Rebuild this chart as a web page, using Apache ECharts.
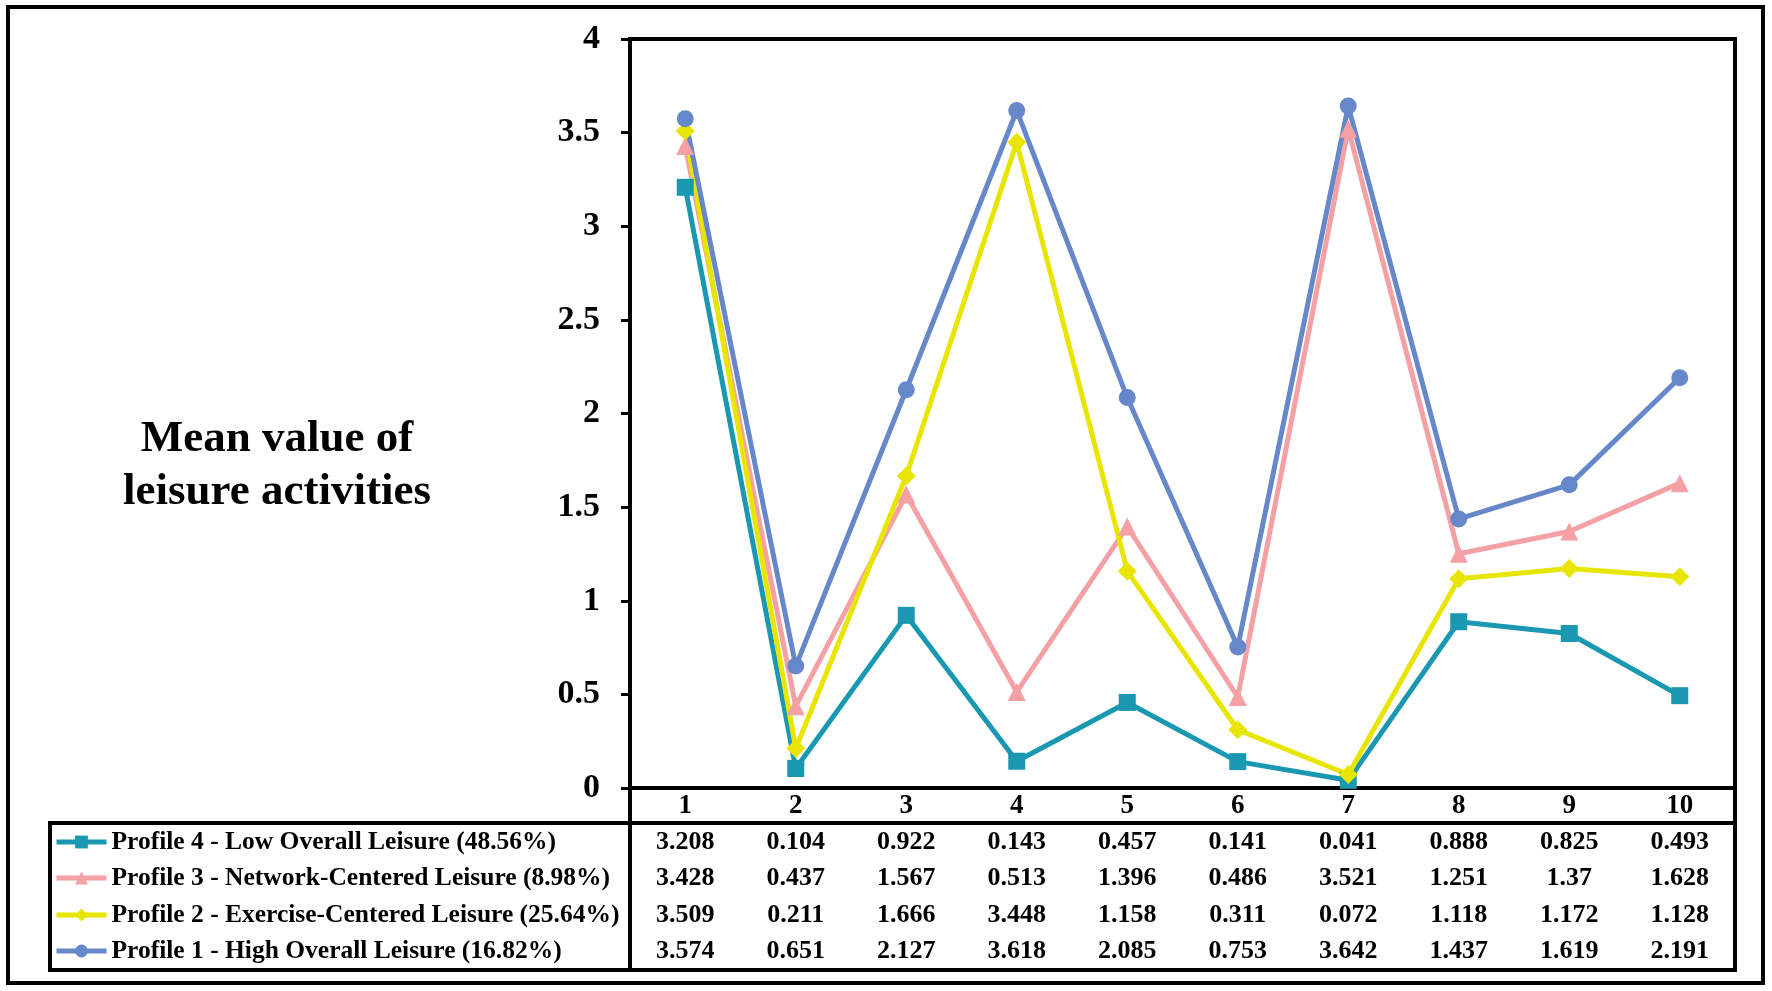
<!DOCTYPE html>
<html>
<head>
<meta charset="utf-8">
<title>Mean value of leisure activities</title>
<script src="https://cdn.jsdelivr.net/npm/echarts@6/dist/echarts.min.js"></script>
<style>
    html, body { margin: 0; padding: 0; background: #fff; }
    #main { width: 1772px; height: 991px; }
</style>
</head>
<body>
<div id="main"></div>
<script>
var categories = ['1', '2', '3', '4', '5', '6', '7', '8', '9', '10'];
var yTicks = [0, 0.5, 1, 1.5, 2, 2.5, 3, 3.5, 4];

var profileNames = [
    'Profile 4 - Low Overall Leisure (48.56%)',
    'Profile 3 - Network-Centered Leisure (8.98%)',
    'Profile 2 - Exercise-Centered Leisure (25.64%)',
    'Profile 1 - High Overall Leisure (16.82%)'
];
var profile4 = [3.208, 0.104, 0.922, 0.143, 0.457, 0.141, 0.041, 0.888, 0.825, 0.493];
var profile3 = [3.428, 0.437, 1.567, 0.513, 1.396, 0.486, 3.521, 1.251, 1.37, 1.628];
var profile2 = [3.509, 0.211, 1.666, 3.448, 1.158, 0.311, 0.072, 1.118, 1.172, 1.128];
var profile1 = [3.574, 0.651, 2.127, 3.618, 2.085, 0.753, 3.642, 1.437, 1.619, 2.191];

var profileData = [profile4, profile3, profile2, profile1];
var profileColors = ['#1a98b2', '#f4a0a4', '#e8e600', '#6687c9'];
var profileSymbols = ['rect', 'triangle', 'diamond', 'circle'];
var symbolSizes = [17, 18, 19, 17];

var font = '"Liberation Serif", "Times New Roman", serif';

var chart = echarts.init(document.getElementById('main'));

// plot box and table rows (pixels)
var plotLeft = 630, plotRight = 1735, plotTop = 39, plotBottom = 788;
var catBottom = 823, tableLeft = 50, tableBottom = 970;
var rowCenters = [842, 878, 915, 951];

var xAxes = [{
    type: 'category',
    data: categories,
    position: 'bottom',
    axisLine: { show: true, lineStyle: { color: '#000', width: 4 } },
    axisTick: { show: false },
    axisLabel: {
        margin: 18,
        verticalAlign: 'middle',
        color: '#000',
        fontFamily: font,
        fontWeight: 'bold',
        fontSize: 27
    }
}];

// the data table under the plot: one label-only axis per profile
for (var k = 0; k < profileData.length; k++) {
    (function (row) {
        xAxes.push({
            type: 'category',
            data: categories,
            position: 'bottom',
            offset: rowCenters[row] - plotBottom,
            axisLine: { show: false },
            axisTick: { show: false },
            axisLabel: {
                margin: 0,
                verticalAlign: 'middle',
                color: '#000',
                fontFamily: font,
                fontWeight: 'bold',
                fontSize: 26,
                formatter: function (v, i) {
                    return String(profileData[row][i]);
                }
            }
        });
    })(k);
}

var series = [];
var legends = [];
for (var s = 0; s < profileData.length; s++) {
    series.push({
        name: profileNames[s],
        type: 'line',
        xAxisIndex: 0,
        data: profileData[s],
        symbol: profileSymbols[s],
        symbolSize: symbolSizes[s],
        showAllSymbol: true,
        lineStyle: { color: profileColors[s], width: 5 },
        itemStyle: { color: profileColors[s] },
        emphasis: { disabled: true },
        animation: false
    });
    legends.push({
        data: [profileNames[s]],
        left: 54,
        top: rowCenters[s] - 14,
        padding: 0,
        itemWidth: 50,
        itemHeight: 16,
        itemGap: 4,
        selectedMode: false,
        lineStyle: { width: 5 },
        textStyle: {
            color: '#000',
            fontFamily: font,
            fontWeight: 'bold',
            fontSize: 25.5,
            lineHeight: 28
        }
    });
}

option = {
    backgroundColor: '#fff',
    animation: false,
    grid: {
        left: plotLeft,
        right: 1772 - plotRight,
        top: plotTop,
        bottom: 991 - plotBottom,
        show: true,
        borderColor: '#000',
        borderWidth: 4
    },
    legend: legends,
    xAxis: xAxes,
    yAxis: {
        type: 'value',
        min: yTicks[0],
        max: yTicks[yTicks.length - 1],
        interval: 0.5,
        splitLine: { show: false },
        axisLine: { show: true, lineStyle: { color: '#000', width: 4 } },
        axisTick: { show: true, inside: false, length: 9, lineStyle: { color: '#000', width: 3 } },
        axisLabel: {
            margin: 30,
            color: '#000',
            fontFamily: font,
            fontWeight: 'bold',
            fontSize: 34
        }
    },
    graphic: [
        // outer frame
        { type: 'rect', shape: { x: 8, y: 7, width: 1755, height: 976 },
          style: { fill: null, stroke: '#000', lineWidth: 4 }, silent: true },
        // table frame
        { type: 'rect', shape: { x: tableLeft, y: catBottom, width: plotRight - tableLeft, height: tableBottom - catBottom },
          style: { fill: null, stroke: '#000', lineWidth: 4 }, silent: true },
        // divider under the y axis and right edge of category row
        { type: 'line', shape: { x1: plotLeft, y1: plotBottom, x2: plotLeft, y2: tableBottom },
          style: { stroke: '#000', lineWidth: 4 }, silent: true },
        { type: 'line', shape: { x1: plotRight, y1: plotBottom, x2: plotRight, y2: catBottom },
          style: { stroke: '#000', lineWidth: 4 }, silent: true },
        // y axis title
        { type: 'text', x: 277, y: 413, silent: true,
          style: {
              text: 'Mean value of\nleisure activities',
              textAlign: 'center',
              fill: '#000',
              font: 'bold 45px ' + font,
              lineHeight: 53
          } }
    ],
    series: series
};

chart.setOption(option);
</script>
</body>
</html>
